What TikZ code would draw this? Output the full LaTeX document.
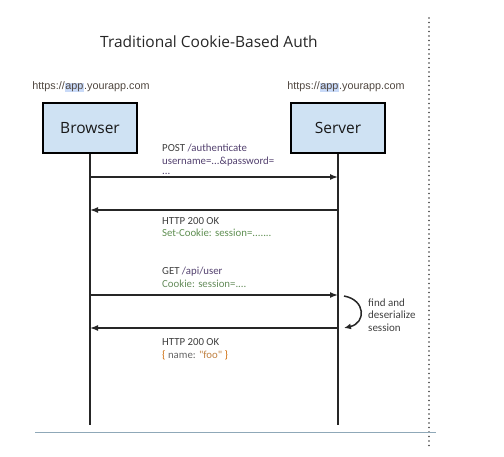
\documentclass[tikz,border=0pt]{standalone}
\usepackage{fontspec}
\setmainfont{Open Sans}
\newfontfamily\lblfont{Carlito}
\newfontfamily\urlfont{Liberation Sans}
\usetikzlibrary{arrows.meta}
\definecolor{boxblue}{HTML}{CFE2F3}
\definecolor{hlblue}{HTML}{C9DAF8}
\definecolor{urlgray}{HTML}{4F463F}
\definecolor{txtgray}{HTML}{3F3F3F}
\definecolor{pathpurple}{HTML}{52406E}
\definecolor{cookiegreen}{HTML}{5F8F52}
\definecolor{bluegray}{HTML}{8FA8B8}
\newcommand\hlapp{{\setlength\fboxsep{0.6pt}\colorbox{hlblue}{app}}}
\begin{document}
\begin{tikzpicture}[x=1pt,y=-1pt,
  actor/.style={draw=black,line width=1.8pt,fill=boxblue,minimum width=94pt,minimum height=50pt,inner sep=0pt,font=\fontsize{15.5}{18}\selectfont,text=black!90},
  urltxt/.style={font=\urlfont\fontsize{10.8}{12}\selectfont,text=urlgray,inner sep=0pt},
  lbl/.style={anchor=west,align=left,inner sep=0pt,font=\lblfont\fontsize{10.8}{12.8}\selectfont,text=txtgray},
  life/.style={line width=1.5pt,black!85},
  msg/.style={line width=1.5pt,black!85,-{Latex[length=8pt,width=6pt]}},
]
\useasboundingbox (0,0) rectangle (504,457);
\node[font=\fontsize{15.5}{18}\selectfont,text=black!85,inner sep=0pt] (title) at (209,42) {Traditional Cookie-Based Auth};
\node[urltxt] (urlL) at (91,87) {https://\hlapp.yourapp.com};
\node[urltxt] (urlR) at (346,87) {https://\hlapp.yourapp.com};
\node[actor] (browser) at (90,128) {Browser};
\node[actor] (server) at (338,128) {Server};
\coordinate (bEnd) at (90,425);
\coordinate (sEnd) at (338,425);
\draw[life] (browser.south) -- (bEnd);
\draw[life] (server.south) -- (sEnd);
% arrow points
\coordinate (b1) at (90,177); \coordinate (s1) at (338,177);
\coordinate (b2) at (90,210); \coordinate (s2) at (338,210);
\coordinate (b3) at (90,295); \coordinate (s3) at (338,295);
\coordinate (b4) at (90,328); \coordinate (s4) at (338,328);
\draw[msg] (b1) -- (s1);
\draw[msg] (s2) -- (b2);
\draw[msg] (b3) -- (s3);
\draw[msg] (s4) -- (b4);
% labels
\node[lbl] (l1) at (162,159) {POST \textcolor{pathpurple}{/authenticate}\\\textcolor{pathpurple}{username=...\&password=}\\[-3pt]\textcolor{pathpurple}{...}};
\node[lbl] (l2) at (162,227) {HTTP 200 OK\\\textcolor{cookiegreen}{Set-Cookie: session=.......}};
\node[lbl] (l3) at (162,277) {GET \textcolor{pathpurple}{/api/user}\\\textcolor{cookiegreen!80!gray}{Cookie: session=....}};
\node[lbl] (l4) at (162,349) {HTTP 200 OK\\\textcolor{orange!80!black}{\{} \textcolor{txtgray!80}{name:} \textcolor{brown}{"foo"} \textcolor{orange!80!black}{\}}};
% self loop
\coordinate (c1) at (344,296);
\coordinate (c2) at (344,328);
\draw[line width=1.5pt,black!85,-{Latex[length=7pt,width=6pt]}] (c1) .. controls (366,300) and (366,323) .. (c2);
\node[lbl,font=\lblfont\fontsize{11}{12.5}\selectfont,text=txtgray] (l5) at (368,315) {find and\\deserialize\\session};
% separators
\coordinate (dTop) at (429,18);
\coordinate (dBot) at (429,447);
\draw[line width=1.8pt,black!75,line cap=round,dash pattern=on 0pt off 4.5pt] (dTop) -- (dBot);
\coordinate (hL) at (35,432);
\coordinate (hR) at (436,432);
\draw[bluegray,line width=1pt] (hL) -- (hR);
\end{tikzpicture}
\end{document}
